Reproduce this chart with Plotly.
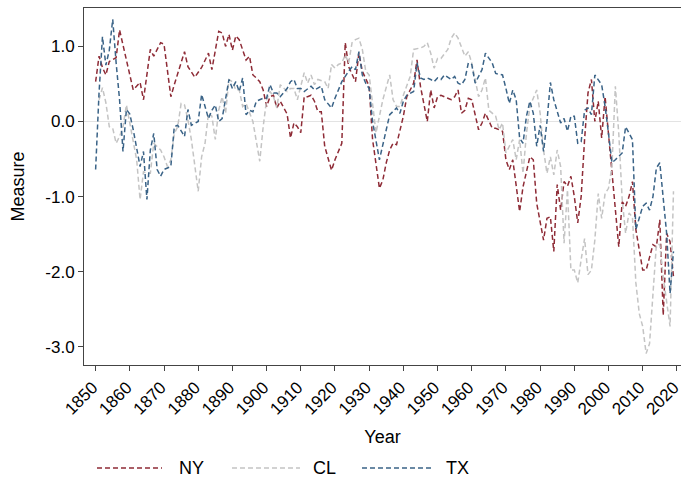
import plotly.graph_objects as go

ny_years = [1850, 1851, 1852, 1853, 1854, 1856, 1857, 1859, 1861, 1863, 1864, 1866, 1867, 1869, 1870,
            1872, 1873, 1876, 1877, 1879, 1881, 1883, 1884, 1886, 1887, 1888, 1889, 1890, 1891, 1892,
            1894, 1895, 1896, 1897, 1898, 1899, 1900, 1901, 1902, 1903, 1904, 1906, 1907, 1908, 1909,
            1910, 1911, 1912, 1913, 1914, 1915, 1916, 1917, 1919, 1920, 1922, 1923, 1924, 1925, 1926,
            1927, 1928, 1930, 1931, 1933, 1934, 1935, 1936, 1937, 1938, 1940, 1941, 1943, 1944, 1945,
            1946, 1947, 1948, 1949, 1950, 1951, 1953, 1954, 1955, 1956, 1957, 1958, 1959, 1960, 1962,
            1963, 1964, 1966, 1967, 1969, 1970, 1971, 1972, 1974, 1975, 1977, 1978, 1979, 1981, 1982,
            1983, 1984, 1985, 1986, 1987, 1988, 1989, 1990, 1991, 1992, 1993, 1994, 1995, 1996, 1997,
            1998, 1999, 2000, 2001, 2003, 2004, 2005, 2006, 2007, 2008, 2009, 2010, 2011, 2013, 2014,
            2015, 2016, 2017, 2018, 2019]
ny_vals = [0.53, 0.87, 0.72, 0.62, 0.80, 0.85, 1.22, 0.82, 0.42, 0.52, 0.29, 0.96, 0.87, 1.05, 1.03,
           0.33, 0.49, 0.93, 0.73, 0.59, 0.72, 0.91, 0.69, 1.20, 1.18, 1.00, 1.16, 0.95, 1.14, 1.09,
           0.82, 0.87, 0.62, 0.58, 0.53, 0.42, 0.20, 0.33, 0.35, 0.18, 0.27, 0.10, -0.22, -0.02, -0.07,
           -0.15, 0.33, 0.33, 0.35, 0.27, 0.13, 0.13, -0.33, -0.65, -0.51, -0.29, 1.05, 0.73, 0.62, 0.53,
           0.91, 0.67, 0.47, -0.24, -0.89, -0.78, -0.55, -0.38, -0.29, -0.31, 0.07, 0.33, 0.51, 0.82, 0.47,
           0.25, 0.00, 0.42, 0.18, 0.33, 0.35, 0.31, 0.29, 0.33, 0.42, 0.11, 0.15, 0.31, 0.29, -0.11,
           -0.02, 0.11, -0.09, -0.09, -0.13, -0.51, -0.64, -0.51, -1.20, -0.87, -0.47, -0.51, -1.09, -1.58, -1.29,
           -1.27, -1.73, -0.84, -1.18, -0.80, -0.86, -0.73, -1.00, -1.35, -1.00, -0.24, 0.38, 0.56, 0.00, 0.27,
           -0.22, 0.33, -0.16, -0.60, -1.67, -1.07, -1.13, -1.00, -0.80, -1.44, -1.69, -1.98, -1.98, -1.64, -1.67,
           -1.31, -2.58, -1.49, -1.60, -2.07]

cl_years = [1851, 1852, 1853, 1854, 1855, 1856, 1857, 1858, 1859, 1860, 1861, 1862, 1863, 1864, 1865,
            1866, 1867, 1869, 1870, 1871, 1872, 1873, 1874, 1875, 1876, 1877, 1878, 1880, 1881, 1882,
            1883, 1884, 1885, 1886, 1887, 1888, 1889, 1890, 1891, 1892, 1893, 1894, 1896, 1897, 1898,
            1899, 1900, 1901, 1902, 1903, 1904, 1906, 1907, 1908, 1909, 1911, 1912, 1913, 1914, 1915,
            1917, 1918, 1919, 1920, 1921, 1922, 1923, 1924, 1925, 1926, 1927, 1928, 1929, 1930, 1931,
            1932, 1934, 1936, 1937, 1938, 1939, 1940, 1942, 1943, 1945, 1946, 1947, 1948, 1949, 1950,
            1951, 1953, 1954, 1955, 1956, 1958, 1959, 1960, 1961, 1962, 1963, 1964, 1965, 1966, 1967,
            1968, 1969, 1970, 1972, 1973, 1974, 1975, 1976, 1977, 1979, 1980, 1981, 1982, 1983, 1984,
            1985, 1986, 1987, 1988, 1989, 1990, 1991, 1992, 1993, 1994, 1995, 1996, 1997, 1998, 1999,
            2000, 2001, 2002, 2003, 2004, 2005, 2006, 2007, 2008, 2009, 2010, 2011, 2012, 2013, 2014,
            2015, 2016, 2018, 2019]
cl_vals = [0.29, 0.45, 0.25, -0.07, -0.09, -0.29, -0.20, -0.07, 0.22, -0.02, -0.24, -0.51, -1.04, -0.67, -0.69,
           -0.69, -0.29, -0.38, -0.47, -0.60, -0.51, -0.16, -0.07, 0.24, 0.22, 0.02, -0.24, -0.93, -0.47, -0.29,
           0.11, 0.07, -0.24, 0.15, 0.33, 0.11, 0.56, 0.53, 0.42, 0.42, 0.20, 0.24, 0.00, -0.24, -0.53,
           -0.07, 0.29, 0.40, 0.33, 0.18, 0.49, 0.40, 0.44, 0.44, 0.29, 0.65, 0.51, 0.62, 0.49, 0.56,
           0.53, 0.44, 0.76, 0.71, 0.76, 0.78, 0.89, 0.78, 1.05, 1.09, 1.11, 0.96, 0.67, 0.62, 0.20,
           -0.15, 0.29, 0.62, 0.29, 0.20, 0.20, 0.35, 0.60, 0.96, 0.98, 1.00, 1.05, 0.91, 0.71, 0.84,
           0.84, 0.96, 1.11, 1.18, 1.11, 0.87, 0.93, 0.78, 0.56, 0.33, 0.42, 0.58, 0.15, 0.11, 0.07,
           -0.11, -0.02, -0.42, -0.24, -0.51, -0.24, -0.69, -0.16, 0.20, 0.42, 0.11, -0.38, -0.69, -0.47, -0.71,
           -0.38, -0.60, -1.62, -0.91, -1.98, -1.98, -2.15, -1.84, -1.56, -2.04, -1.98, -1.58, -0.96, -1.29, -0.96,
           -0.89, -0.60, 0.47, -0.16, -1.04, -1.49, -1.22, -1.27, -2.15, -2.56, -2.73, -3.09, -2.96, -2.25, -1.64,
           -1.64, -2.07, -2.73, -0.93]

tx_years = [1850, 1851, 1852, 1853, 1854, 1855, 1856, 1857, 1858, 1859, 1860, 1861, 1863, 1864, 1865,
            1866, 1867, 1868, 1869, 1870, 1872, 1873, 1874, 1876, 1877, 1878, 1880, 1881, 1882, 1883,
            1884, 1885, 1886, 1887, 1889, 1890, 1891, 1892, 1893, 1894, 1895, 1896, 1897, 1899, 1900,
            1901, 1902, 1903, 1904, 1906, 1907, 1908, 1909, 1910, 1911, 1913, 1914, 1915, 1916, 1917,
            1919, 1920, 1922, 1924, 1925, 1926, 1927, 1928, 1929, 1930, 1931, 1933, 1934, 1935, 1936,
            1938, 1939, 1940, 1941, 1943, 1944, 1945, 1946, 1947, 1948, 1949, 1950, 1951, 1952, 1954,
            1955, 1956, 1957, 1958, 1959, 1960, 1961, 1963, 1964, 1966, 1967, 1969, 1970, 1971, 1972,
            1973, 1974, 1975, 1976, 1977, 1978, 1979, 1980, 1981, 1982, 1983, 1984, 1986, 1987, 1988,
            1989, 1990, 1991, 1992, 1993, 1994, 1995, 1996, 1998, 1999, 2000, 2001, 2002, 2004, 2005,
            2006, 2007, 2008, 2009, 2010, 2011, 2012, 2013, 2014, 2015, 2016, 2017, 2018, 2019]
tx_vals = [-0.64, 0.38, 1.13, 0.75, 0.95, 1.36, 0.78, 0.29, -0.40, 0.16, 0.10, -0.11, -0.60, -0.40, -1.04,
           -0.38, -0.16, -0.64, -0.73, -0.64, -0.60, -0.07, -0.05, -0.20, 0.16, -0.05, 0.00, 0.36, 0.20, 0.04,
           0.15, 0.22, 0.00, 0.04, 0.56, 0.44, 0.53, 0.40, 0.58, 0.09, 0.15, 0.13, 0.27, 0.31, 0.31,
           0.49, 0.38, 0.38, 0.33, 0.44, 0.53, 0.56, 0.44, 0.44, 0.40, 0.47, 0.42, 0.44, 0.47, 0.29,
           0.18, 0.31, 0.53, 0.67, 0.73, 0.69, 0.93, 0.62, 0.51, 0.44, 0.00, -0.51, -0.33, -0.11, 0.09,
           0.18, 0.11, 0.27, 0.35, 0.40, 0.78, 0.58, 0.56, 0.58, 0.56, 0.53, 0.58, 0.56, 0.62, 0.56,
           0.60, 0.51, 0.49, 0.56, 0.78, 0.76, 0.51, 0.69, 0.91, 0.78, 0.64, 0.62, 0.44, 0.24, 0.42,
           0.29, -0.22, -0.29, 0.07, 0.27, 0.11, -0.33, -0.05, -0.40, 0.00, 0.52, 0.29, -0.02, 0.04, -0.13,
           0.07, 0.07, -0.29, -0.27, 0.15, 0.18, 0.09, 0.62, 0.49, 0.20, -0.16, -0.55, -0.51, -0.42, -0.07,
           -0.16, -0.24, -1.44, -1.29, -1.13, -1.09, -1.18, -1.00, -0.62, -0.55, -1.00, -1.49, -2.29, -1.73]

series_names = ["NY", "CL", "TX"]
series_colors = ["#8E2B36", "#C4C4C4", "#3A6387"]
series_data = [(ny_years, ny_vals), (cl_years, cl_vals), (tx_years, tx_vals)]

x_ticks = list(range(1850, 2021, 10))
y_ticks = [-3.0, -2.0, -1.0, 0.0, 1.0]
y_tick_labels = [f"{v:.1f}" for v in y_ticks]

DASH = "5px,3px"
fig = go.Figure()
for name, (xs, ys), col in zip(series_names, series_data, series_colors):
    fig.add_trace(go.Scatter(x=xs, y=ys, mode="lines", name=name, showlegend=False,
                             line=dict(color=col, width=1.5, dash=DASH)))

# custom legend below the plot (layout only, paper coordinates)
W, H = 681, 481
ML, MR, MT, MB = 84, 0, 8, 116
pw, ph = W - ML - MR, H - MT - MB
def px_x(p):
    return (p - ML) / pw
def px_y(p):
    return (H - MB - p) / ph

legend_slots = [(97, 162, 177), (232, 300, 311), (362, 432, 444)]
leg_y = 468
for (x0, x1, xt), name, col in zip(legend_slots, series_names, series_colors):
    fig.add_shape(type="line", xref="paper", yref="paper",
                  x0=px_x(x0), x1=px_x(x1), y0=px_y(leg_y), y1=px_y(leg_y),
                  line=dict(color=col, width=1.5, dash=DASH))
    fig.add_annotation(xref="paper", yref="paper", x=px_x(xt), y=px_y(leg_y),
                       xanchor="left", yanchor="middle", text=name, showarrow=False,
                       font=dict(size=18, color="black"))

axis_common = dict(showline=True, linecolor="#444444", linewidth=1, mirror=True,
                   ticks="outside", ticklen=5, tickcolor="#444444", tickwidth=1,
                   showgrid=False, automargin=False, ticklabeloverflow="allow")

fig.update_layout(
    width=W, height=H,
    margin=dict(l=ML, r=MR, t=MT, b=MB),
    paper_bgcolor="white", plot_bgcolor="white",
    font=dict(family="Liberation Sans, Arial, sans-serif", color="black"),
    xaxis=dict(range=[1846.6, 2021.2], tickvals=x_ticks, tickangle=-45,
               tickfont=dict(size=17, color="black"), ticklabelshift=-3,
               title=dict(text="Year", font=dict(size=18), standoff=12), zeroline=False,
               **axis_common),
    yaxis=dict(range=[-3.244, 1.512], tickvals=y_ticks, ticktext=y_tick_labels,
               tickfont=dict(size=17, color="black"),
               title=dict(text="Measure", font=dict(size=18), standoff=16),
               zeroline=True, zerolinecolor="#E3E3E3", zerolinewidth=1,
               **axis_common),
    showlegend=False,
)

fig.write_html("out.html")
